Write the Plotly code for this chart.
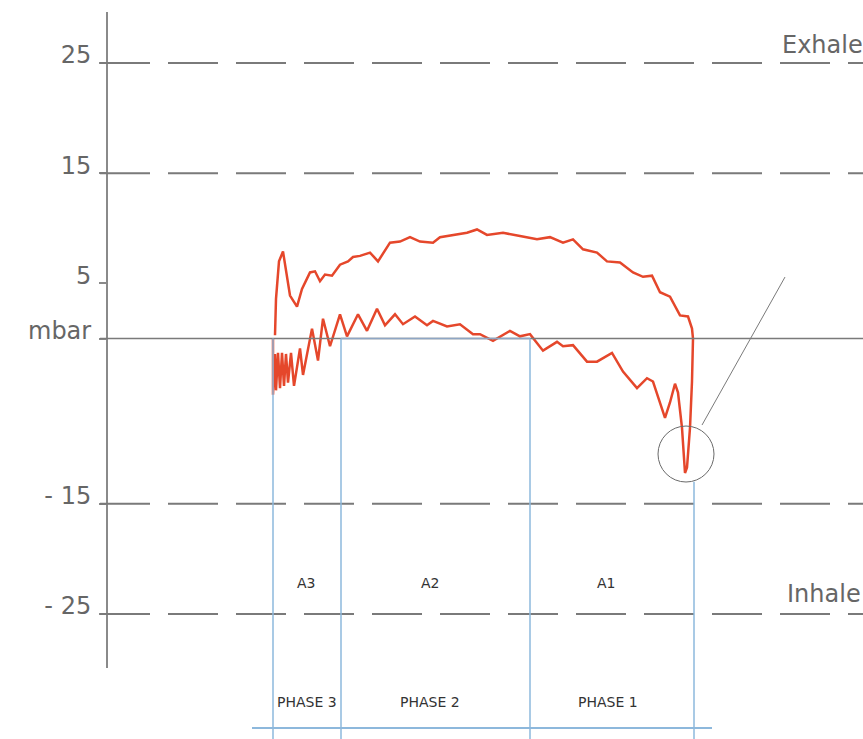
import plotly.graph_objects as go

# ---- data (time in arbitrary units, pressure in mbar) ----
lower_t = [166, 166, 168, 169, 171, 173, 175, 177, 179, 181, 184, 187, 193, 196, 205, 211, 216, 223,
           233, 240, 251, 260, 270, 278, 288, 296, 308, 320, 326, 340, 353, 366, 373, 386, 403, 413,
           423, 436, 450, 456, 466, 480, 490, 505, 516, 530, 540, 546, 558, 563, 568, 571, 575, 578]
lower_p = [0.0, -5.1, -1.4, -4.7, -1.3, -4.5, -1.3, -4.3, -1.4, -4.0, -1.3, -4.3, -0.9, -3.3, 0.9, -2.0, 1.8, -0.7,
           2.2, 0.2, 2.2, 0.7, 2.7, 1.2, 2.2, 1.3, 2.0, 1.2, 1.6, 1.1, 1.3, 0.4, 0.4, -0.2, 0.7, 0.2,
           0.4, -1.1, -0.3, -0.7, -0.6, -2.1, -2.1, -1.3, -3.0, -4.5, -3.6, -3.9, -7.2, -5.8, -4.1, -4.9, -8.1, -12.2]

upper_t = [580, 583, 585, 586, 585, 581, 573, 563, 553, 545, 536, 526, 513, 500, 490, 476, 466, 456,
           443, 430, 413, 396, 380, 370, 360, 346, 333, 326, 313, 303, 293, 283, 271, 263, 253, 246,
           241, 233, 225, 218, 213, 208, 203, 195, 190, 183, 176, 172, 169, 168]
upper_p = [-11.7, -8.1, -3.9, 0.0, 0.9, 2.0, 2.1, 3.8, 4.2, 5.7, 5.6, 6.0, 6.9, 7.0, 7.8, 8.1, 9.0, 8.7,
           9.2, 9.0, 9.3, 9.6, 9.4, 9.9, 9.6, 9.4, 9.2, 8.7, 8.8, 9.2, 8.8, 8.7, 7.0, 7.8, 7.5, 7.4,
           7.0, 6.7, 5.7, 5.8, 5.2, 6.1, 6.0, 4.5, 2.9, 3.9, 7.9, 7.0, 3.6, 0.3]

tick_vals = [25, 15, 5, 0, -15, -25]
tick_text = ["25", "15", "5", "mbar", "- 15", "- 25"]
dashed_levels = [25, 15, -15, -25]

phase_bounds = [166, 234, 423, 587]
area_labels = ["A3", "A2", "A1"]
area_t = [199, 323, 499]
phase_labels = ["PHASE 3", "PHASE 2", "PHASE 1"]
phase_t = [200, 323, 501]

GRAY = "#7a7a7a"
BLUE = "#8db8dc"
RED = "#e5472b"

fig = go.Figure()

fig.add_trace(go.Scatter(x=lower_t + upper_t, y=lower_p + upper_p, mode="lines",
                         line=dict(color=RED, width=2.5), showlegend=False, hoverinfo="skip"))

shapes = []
# y axis line
shapes.append(dict(type="line", xref="paper", yref="y", x0=0, x1=0, y0=29.63, y1=-29.9,
                   line=dict(color="#8a8a8a", width=2)))
# dashed reference lines
for lv in dashed_levels:
    shapes.append(dict(type="line", xref="paper", yref="y", x0=-7 / 756, x1=1, y0=lv, y1=lv,
                       line=dict(color=GRAY, width=2, dash="50px,18px")))
# zero line
shapes.append(dict(type="line", xref="paper", yref="y", x0=-7 / 756, x1=1, y0=0, y1=0,
                   line=dict(color=GRAY, width=1.5)))
shapes.append(dict(type="line", xref="x", yref="y", x0=phase_bounds[1], x1=phase_bounds[2], y0=0, y1=0,
                   line=dict(color="#8ea6c4", width=1.5)))
# phase boundary lines
for i, b in enumerate(phase_bounds):
    top = 0 if i < 3 else -13.0
    shapes.append(dict(type="line", xref="x", yref="y", x0=b, x1=b, y0=top, y1=-36.34,
                       line=dict(color=BLUE, width=1.5)))
# bottom horizontal blue line
shapes.append(dict(type="line", xref="x", yref="y", x0=145, x1=605, y0=-35.35, y1=-35.35,
                   line=dict(color=BLUE, width=2)))
# circle around the dip and pointer line
shapes.append(dict(type="circle", xref="x", yref="y", x0=551, x1=607, y0=-7.94, y1=-13.02,
                   line=dict(color="#6a6a6a", width=1)))
shapes.append(dict(type="line", xref="x", yref="y", x0=595, x1=678, y0=-7.85, y1=5.58,
                   line=dict(color="#7a7a7a", width=1)))

annotations = []
for t, s in zip(area_t, area_labels):
    annotations.append(dict(x=t, y=-22.19, xref="x", yref="y", text=s, showarrow=False,
                            font=dict(family="DejaVu Sans", size=14, color="#333333")))
for t, s in zip(phase_t, phase_labels):
    annotations.append(dict(x=t, y=-32.99, xref="x", yref="y", text=s, showarrow=False,
                            font=dict(family="DejaVu Sans", size=14, color="#333333")))
annotations.append(dict(x=673, y=26.6, xref="x", yref="y", text="Exhale", showarrow=False,
                        xanchor="left", font=dict(family="DejaVu Sans", size=24, color="#666666")))
annotations.append(dict(x=678, y=-23.2, xref="x", yref="y", text="Inhale", showarrow=False,
                        xanchor="left", font=dict(family="DejaVu Sans", size=24, color="#666666")))

fig.update_layout(
    width=863, height=739,
    margin=dict(l=107, r=0, t=0, b=0, pad=0),
    paper_bgcolor="white", plot_bgcolor="white",
    shapes=shapes, annotations=annotations,
    xaxis=dict(range=[0, 756], visible=False, fixedrange=True),
    yaxis=dict(range=[-36.34, 30.72], tickmode="array", tickvals=tick_vals, ticktext=tick_text,
               showgrid=False, zeroline=False, showline=False,
               ticks="outside", ticklen=7, tickwidth=2, tickcolor="#8a8a8a",
               ticklabelstandoff=3, ticklabelshift=-8,
               tickfont=dict(family="DejaVu Sans", size=24, color="#666666"), fixedrange=True),
)

fig.write_html("out.html", config={"displayModeBar": False},
               post_script="document.body.style.margin='0';document.body.style.overflow='hidden';")
